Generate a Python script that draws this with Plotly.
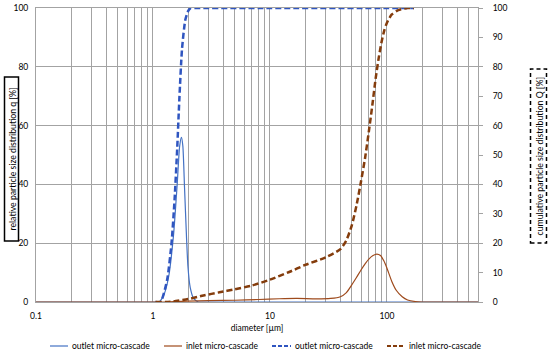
import plotly.graph_objects as go
import math

# ---- data ----
d_out_q = [0.1, 0.5, 1.0, 1.12, 1.24, 1.36, 1.5, 1.61, 1.69, 1.75, 1.8, 1.86, 1.93, 1.99, 2.08, 2.22, 2.45, 3.0, 10, 100, 600]
q_out = [0, 0, 0, 0, 2.5, 8.5, 23, 40, 53, 56, 53, 39, 23, 12, 5, 1.3, 0, 0, 0, 0, 0]

d_in_q = [0.1, 0.5, 1.0, 1.2, 1.5, 2, 3, 5, 8, 12, 17, 25, 33, 40, 45, 50, 55, 60, 65, 70, 76, 82, 88, 94,
          100, 110, 120, 135, 150, 175, 200, 300, 600]
q_in = [0, 0, 0, 0, 0.15, 0.3, 0.45, 0.6, 0.85, 1.1, 1.2, 1.05, 1.2, 1.8, 3.2, 5.8, 8.4, 10.9, 13, 14.6, 15.8,
        16.3, 15.8, 14, 11.5, 7, 4, 1.8, 0.7, 0.15, 0, 0, 0]

d_out_Q = [1.05, 1.16, 1.32, 1.44, 1.53, 1.61, 1.68, 1.77, 1.89, 2.0, 2.1, 2.3, 10, 100, 170]
Q_out = [0, 0, 7.5, 20, 35, 52, 69, 86, 96, 99, 100, 100, 100, 100, 100]

d_in_Q = [1.05, 1.3, 1.5, 2, 2.7, 3.7, 5, 7, 10, 14.6, 20, 30, 40, 45, 50, 55, 60, 65, 70, 75, 80, 85, 90, 95,
          100, 110, 125, 150, 170]
Q_in = [0, 0, 0.2, 1.0, 2.2, 3.3, 4.3, 5.6, 7.6, 10.2, 12.6, 15.2, 18, 21, 26, 33, 41, 49, 58, 67, 76, 83, 88.5,
        92.5, 95, 97.8, 99.3, 100, 100]

series_names = ["outlet micro-cascade", "inlet micro-cascade", "outlet micro-cascade", "inlet micro-cascade"]

x_ticks = [0.1, 1, 10, 100]
x_ticktext = ["0.1", "1", "10", "100"]
x_minor = [k * 10 ** e for e in (-1, 0, 1, 2) for k in range(2, 10) if k * 10 ** e < 600]

FONT = "Lato"
GRID = "#a3a3a3"
C_OUT_Q = "#4472C4"
C_IN_Q = "#9E4A1C"
C_OUT_CUM = "#2F55C0"
C_IN_CUM = "#843C0C"
DASH = "6px,3px"

fig = go.Figure()
fig.add_trace(go.Scatter(x=d_out_q, y=q_out, name=series_names[0], mode="lines",
                         line=dict(color=C_OUT_Q, width=1.2, shape="spline", smoothing=0.6)))
fig.add_trace(go.Scatter(x=d_in_q, y=q_in, name=series_names[1], mode="lines",
                         line=dict(color=C_IN_Q, width=1.2, shape="spline", smoothing=0.6)))
fig.add_trace(go.Scatter(x=d_out_Q, y=Q_out, name=series_names[2], mode="lines", yaxis="y2",
                         line=dict(color=C_OUT_CUM, width=2.5, dash=DASH, shape="spline", smoothing=0.6)))
fig.add_trace(go.Scatter(x=d_in_Q, y=Q_in, name=series_names[3], mode="lines", yaxis="y2",
                         line=dict(color=C_IN_CUM, width=2.5, dash=DASH, shape="spline", smoothing=0.6)))

W, H = 550, 356
L, R, T, B = 36, 478, 8, 302
def px(x):
    return (x - L) / (R - L)
def py(y):
    return (B - y) / (B - T)

fig.update_layout(
    width=W, height=H, autosize=False,
    margin=dict(l=L, r=W - R, t=T, b=H - B),
    paper_bgcolor="white", plot_bgcolor="white",
    font=dict(family=FONT, size=8.5, color="#000000"),
    showlegend=False,
    xaxis=dict(type="log", range=[-1, math.log10(600)], tickvals=x_ticks, ticktext=x_ticktext,
               showgrid=True, gridcolor=GRID, gridwidth=1, ticks="", showline=True, linecolor=GRID,
               mirror=True, zeroline=False, ticklabelstandoff=6, automargin=False,
               minor=dict(tickvals=x_minor, showgrid=True, gridcolor=GRID, gridwidth=1, ticks=""),
               title=dict(text="diameter [µm]", font=dict(family=FONT, size=8.5), standoff=4)),
    yaxis=dict(range=[0, 100], dtick=20, showgrid=True, gridcolor=GRID, gridwidth=1, ticks="",
               showline=True, linecolor=GRID, zeroline=False, ticklabelstandoff=5, automargin=False,
               tickfont=dict(family=FONT, size=8.5)),
    yaxis2=dict(range=[0, 100], dtick=10, overlaying="y", side="right", showgrid=False, ticks="outside",
                ticklen=4, tickcolor=GRID, showline=True, linecolor=GRID, zeroline=False,
                ticklabelstandoff=8, automargin=False),
)

# axis titles with boxes
fig.add_annotation(x=px(11.5), y=py(159), xref="paper", yref="paper", showarrow=False, textangle=-90,
                   xanchor="center", yanchor="middle",
                   text="relative particle size distribution q [%]", font=dict(family=FONT, size=8.7))
fig.add_shape(type="rect", xref="paper", yref="paper", x0=px(4.5), x1=px(18.5), y0=py(241), y1=py(77),
              line=dict(color="#000", width=1.5))
fig.add_annotation(x=px(538.5), y=py(156), xref="paper", yref="paper", showarrow=False, textangle=-90,
                   xanchor="center", yanchor="middle",
                   text="cumulative particle size distribution Q [%]", font=dict(family=FONT, size=8.7))
fig.add_shape(type="rect", xref="paper", yref="paper", x0=px(530.5), x1=px(546.5), y0=py(243), y1=py(69),
              line=dict(color="#000", width=1.5, dash="4px,3px"))

# legend (drawn below the plot)
leg_y = py(346)
leg_items = [
    (50, 68, C_OUT_Q, 1.2, "solid", series_names[0]),
    (164, 182, C_IN_Q, 1.2, "solid", series_names[1]),
    (272, 291, C_OUT_CUM, 2.2, "4px,2px", series_names[2]),
    (387, 405, C_IN_CUM, 2.2, "4px,2px", series_names[3]),
]
for x0, x1, col, w, dash, name in leg_items:
    fig.add_shape(type="line", xref="paper", yref="paper", x0=px(x0), x1=px(x1), y0=leg_y, y1=leg_y,
                  line=dict(color=col, width=w, dash=dash))
    fig.add_annotation(x=px(x1 + 1.5), y=leg_y, xref="paper", yref="paper", showarrow=False,
                       xanchor="left", yanchor="middle", text=name, font=dict(family=FONT, size=8.5))

fig.write_html("out.html", config={"displayModeBar": False, "staticPlot": True},
               post_script="document.body.style.margin='0';document.body.style.overflow='hidden';")
